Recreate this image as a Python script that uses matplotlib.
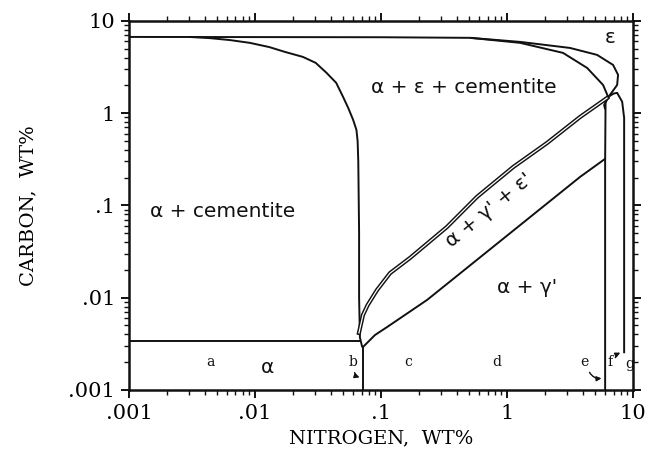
import numpy as np
import matplotlib
matplotlib.use("Agg")
import matplotlib.pyplot as plt
from matplotlib.ticker import FixedLocator, FixedFormatter, LogLocator, NullFormatter

# phase boundaries, (N wt%, C wt%)
eps_n = [0.001, 0.1, 0.51, 1.27, 3.16, 5.18, 6.94, 7.6, 7.47, 6.56, 5.89, 6.0]
eps_c = [6.7, 6.65, 6.55, 5.92, 5.09, 4.28, 3.33, 2.60, 2.02, 1.58, 1.23, 1.1]

cem_n = [0.51, 1.27, 2.78, 4.32, 5.78, 6.34, 7.0, 7.47, 8.19, 8.49, 8.49, 8.49]
cem_c = [6.55, 5.78, 4.50, 3.09, 2.02, 1.50, 1.63, 1.66, 1.33, 0.89, 0.115, 0.0025]

acem_n = [0.003, 0.0044, 0.0063, 0.0091, 0.013, 0.0173, 0.024, 0.0303, 0.037,
          0.0441, 0.050, 0.0549, 0.060, 0.0638, 0.0652, 0.066, 0.067, 0.067, 0.068, 0.071]
acem_c = [6.7, 6.5, 6.2, 5.78, 5.2, 4.61, 4.07, 3.51, 2.73,
          2.13, 1.50, 1.14, 0.85, 0.66, 0.5, 0.3, 0.05, 0.01, 0.0037, 0.0029]

gpe_n = [0.0668, 0.0719, 0.0784, 0.0929, 0.118, 0.170, 0.334, 0.578, 1.12, 2.08, 3.80, 6.22]
gpe_c = [0.00415, 0.0065, 0.00834, 0.0121, 0.0185, 0.0270, 0.0585, 0.124, 0.261, 0.476, 0.910, 1.46]

gp_n = [0.0719, 0.0895, 0.112, 0.232, 3.80, 6.0]
gp_c = [0.00292, 0.00394, 0.00482, 0.00946, 0.204, 0.32]

alpha_n = [0.001, 0.068]
alpha_c = [0.0034, 0.0034]

b_n = [0.072, 0.072]
b_c = [0.0029, 0.001]

e_n = [6.05, 6.0, 6.0]
e_c = [1.46, 0.3, 0.001]

tick_vals = [0.001, 0.01, 0.1, 1, 10]
tick_labels = [".001", ".01", ".1", "1", "10"]

fig = plt.figure(figsize=(6.48, 4.54), dpi=100)
ax = fig.add_axes([0.199, 0.141, 0.778, 0.813])
ax.set_xscale("log")
ax.set_yscale("log")
ax.set_xlim(0.001, 10)
ax.set_ylim(0.001, 10)

lc = "#111111"
for n, c in [(eps_n, eps_c), (cem_n, cem_c), (acem_n, acem_c), (gp_n, gp_c),
             (alpha_n, alpha_c), (b_n, b_c), (e_n, e_c)]:
    ax.plot(n, c, color=lc, lw=1.4, solid_capstyle="butt")

# double line for the upper a+g'+e boundary
ax.plot(gpe_n, gpe_c, color=lc, lw=3.0)
ax.plot(gpe_n, gpe_c, color="white", lw=0.9)

# axes styling
for s in ax.spines.values():
    s.set_linewidth(1.8)
    s.set_color(lc)
for axis in (ax.xaxis, ax.yaxis):
    axis.set_major_locator(FixedLocator(tick_vals))
    axis.set_major_formatter(FixedFormatter(tick_labels))
    axis.set_minor_locator(LogLocator(base=10, subs=np.arange(2, 10)))
    axis.set_minor_formatter(NullFormatter())
ax.tick_params(which="both", direction="out", top=True, right=True, color=lc)
ax.tick_params(which="major", length=6, width=1.4, labelsize=15, pad=4)
ax.tick_params(which="minor", length=3.5, width=1.0)
for lab in ax.get_xticklabels() + ax.get_yticklabels():
    lab.set_family("DejaVu Serif")

ax.set_xlabel("NITROGEN,  WT%", family="DejaVu Serif", fontsize=14,
              labelpad=5)
ax.set_ylabel("CARBON,  WT%", family="DejaVu Serif", fontsize=14,
              labelpad=22)

# region labels
rf = dict(family="DejaVu Sans", fontsize=14.5, color=lc, ha="center", va="center")
ax.text(0.0055, 0.085, "α + cementite", **rf)
ax.text(0.45, 1.88, "α + ε + cementite", **rf)
ax.text(1.44, 0.0128, "α + γ'", **rf)
ax.text(0.72, 0.089, "α + γ' + ε'", rotation=39, **rf)
ax.text(6.6, 6.6, "ε", **rf)
ax.text(0.0125, 0.00175, "α", **rf)

sf = dict(family="DejaVu Serif", fontsize=10, color=lc, ha="center", va="center")
ax.text(0.0044, 0.0020, "a", **sf)
ax.text(0.060, 0.0020, "b", **sf)
ax.text(0.164, 0.0020, "c", **sf)
ax.text(0.83, 0.0020, "d", **sf)
ax.text(4.1, 0.0020, "e", **sf)
ax.text(6.6, 0.0020, "f", **sf)
ax.text(9.4, 0.0019, "g", **sf)

ap = dict(arrowstyle="-|>", color=lc, lw=1.0, mutation_scale=7,
          connectionstyle="arc3,rad=0.4")
ax.annotate("", xy=(0.071, 0.00135), xytext=(0.061, 0.00165), arrowprops=ap)
ax.annotate("", xy=(5.9, 0.00135), xytext=(4.4, 0.00165), arrowprops=ap)
ax.annotate("", xy=(8.3, 0.0026), xytext=(7.1, 0.0021),
            arrowprops=dict(ap, connectionstyle="arc3,rad=-0.3"))

fig.savefig("out.png", dpi=100)
